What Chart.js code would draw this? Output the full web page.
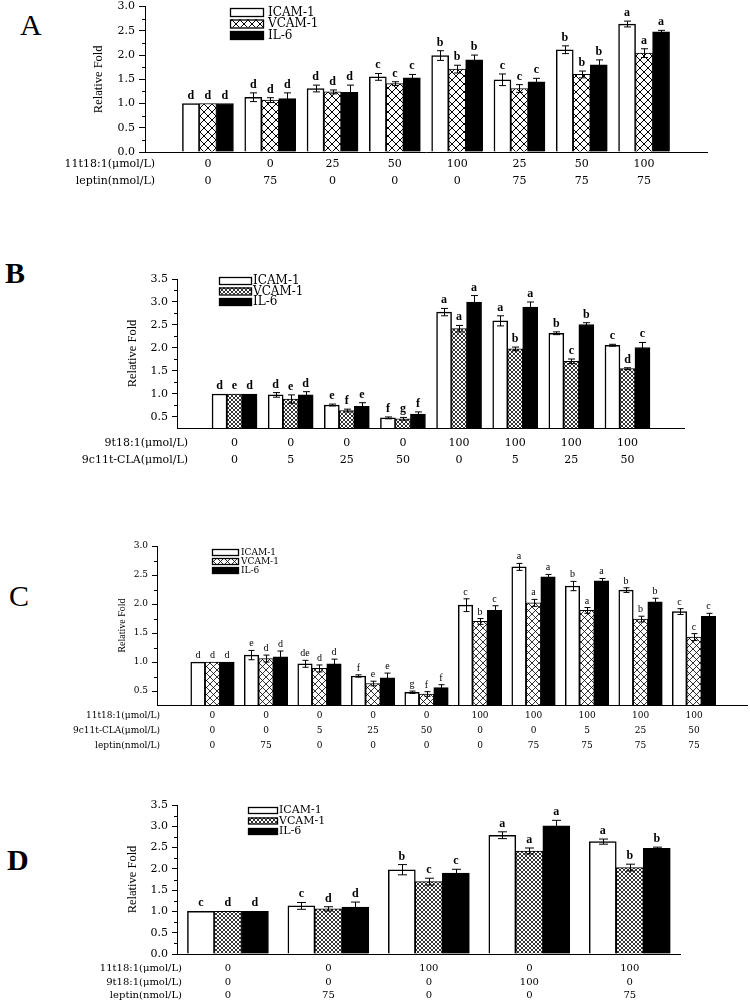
<!DOCTYPE html>
<html>
<head>
<meta charset="utf-8">
<script src="https://cdn.jsdelivr.net/npm/chart.js@4/dist/chart.umd.min.js"></script>
<style>
  body { margin:0; background:#fff; width:750px; height:1002px; position:relative; overflow:hidden; }
  canvas { position:absolute; left:0; }
  .tag { position:absolute; line-height:1; font-size:30px; color:#000; font-family:"Liberation Serif","DejaVu Serif",serif; }
</style>
</head>
<body>
<div class="tag" style="left:20px;top:10px">A</div>
<div class="tag" style="left:5px;top:258px;font-weight:bold">B</div>
<div class="tag" style="left:9px;top:581px">C</div>
<div class="tag" style="left:7px;top:845px;font-weight:bold">D</div>

<canvas id="cA" width="750" height="200" style="top:-4px"></canvas>
<canvas id="cB" width="750" height="215" style="top:260px"></canvas>
<canvas id="cC" width="750" height="225" style="top:530px"></canvas>
<canvas id="cD" width="750" height="212" style="top:790px"></canvas>

<script>
// === data ===
const series = ["ICAM-1", "VCAM-1", "IL-6"];

// panel A
const aRowNames = ["11t18:1(μmol/L)", "leptin(nmol/L)"];
const aVaccenic = ["0","0","25","50","100","25","50","100"];
const aLeptin   = ["0","75","0","0","0","75","75","75"];
const aYTicks   = [0, 0.5, 1, 1.5, 2, 2.5, 3];
const aICAM     = [1.00, 1.13, 1.31, 1.55, 1.99, 1.49, 2.11, 2.64];
const aICAMErr  = [0, 0.09, 0.07, 0.07, 0.10, 0.12, 0.08, 0.06];
const aVCAM     = [1.00, 1.07, 1.24, 1.41, 1.71, 1.31, 1.60, 2.04];
const aVCAMErr  = [0, 0.05, 0.04, 0.04, 0.08, 0.08, 0.07, 0.09];
const aIL6      = [1.00, 1.10, 1.23, 1.53, 1.90, 1.45, 1.80, 2.48];
const aIL6Err   = [0, 0.12, 0.15, 0.07, 0.10, 0.07, 0.10, 0.03];
const aSigICAM  = ["d","d","d","c","b","c","b","a"];
const aSigVCAM  = ["d","d","d","c","b","c","b","a"];
const aSigIL6   = ["d","d","d","c","b","c","b","a"];

// panel B
const bRowNames = ["9t18:1(μmol/L)", "9c11t-CLA(μmol/L)"];
const bElaidic  = ["0","0","0","0","100","100","100","100"];
const bCLA      = ["0","5","25","50","0","5","25","50"];
const bYTicks   = [0.5, 1, 1.5, 2, 2.5, 3, 3.5];
const bICAM     = [1.00, 0.98, 0.76, 0.48, 2.78, 2.59, 2.32, 2.06];
const bICAMErr  = [0, 0.05, 0.02, 0.02, 0.08, 0.11, 0.03, 0.02];
const bVCAM     = [1.00, 0.89, 0.64, 0.46, 2.42, 1.98, 1.71, 1.55];
const bVCAMErr  = [0, 0.09, 0.03, 0.03, 0.07, 0.04, 0.05, 0.02];
const bIL6      = [1.00, 0.98, 0.73, 0.56, 3.00, 2.89, 2.51, 2.01];
const bIL6Err   = [0, 0.07, 0.08, 0.05, 0.14, 0.11, 0.04, 0.11];
const bSigICAM  = ["d","d","e","f","a","a","b","c"];
const bSigVCAM  = ["e","e","f","g","a","b","c","d"];
const bSigIL6   = ["d","d","e","f","a","a","b","c"];

// panel C
const cRowNames = ["11t18:1(μmol/L)", "9c11t-CLA(μmol/L)", "leptin(nmol/L)"];
const cVaccenic = ["0","0","0","0","0","100","100","100","100","100"];
const cCLA      = ["0","0","5","25","50","0","0","5","25","50"];
const cLeptin   = ["0","75","0","0","0","0","75","75","75","75"];
const cYTicks   = [0.5, 1, 1.5, 2, 2.5, 3];
const cICAM     = [1.00, 1.12, 0.97, 0.76, 0.48, 1.98, 2.64, 2.31, 2.24, 1.87];
const cICAMErr  = [0, 0.08, 0.06, 0.02, 0.02, 0.11, 0.06, 0.08, 0.04, 0.05];
const cVCAM     = [1.00, 1.06, 0.89, 0.63, 0.45, 1.70, 2.02, 1.89, 1.74, 1.43];
const cVCAMErr  = [0, 0.06, 0.06, 0.04, 0.04, 0.05, 0.06, 0.05, 0.05, 0.06];
const cIL6      = [1.00, 1.09, 0.97, 0.73, 0.56, 1.89, 2.47, 2.40, 2.04, 1.79];
const cIL6Err   = [0, 0.10, 0.08, 0.08, 0.05, 0.08, 0.04, 0.04, 0.06, 0.05];
const cSigICAM  = ["d","e","de","f","g","c","a","b","b","c"];
const cSigVCAM  = ["d","d","d","e","f","b","a","a","b","c"];
const cSigIL6   = ["d","d","d","e","f","c","a","a","b","c"];

// panel D
const dRowNames = ["11t18:1(μmol/L)", "9t18:1(μmol/L)", "leptin(nmol/L)"];
const dVaccenic = ["0","0","100","0","100"];
const dElaidic  = ["0","0","0","100","0"];
const dLeptin   = ["0","75","0","0","75"];
const dYTicks   = [0, 0.5, 1, 1.5, 2, 2.5, 3, 3.5];
const dICAM     = [1.00, 1.13, 1.98, 2.79, 2.64];
const dICAMErr  = [0, 0.08, 0.12, 0.08, 0.06];
const dVCAM     = [1.00, 1.06, 1.70, 2.42, 2.03];
const dVCAMErr  = [0, 0.05, 0.08, 0.07, 0.08];
const dIL6      = [1.00, 1.10, 1.90, 3.01, 2.48];
const dIL6Err   = [0, 0.12, 0.09, 0.13, 0.03];
const dSigICAM  = ["c","c","b","a","a"];
const dSigVCAM  = ["d","d","c","a","b"];
const dSigIL6   = ["d","d","c","a","b"];

// === helpers ===
const SERIF = '"Liberation Serif", "DejaVu Serif", serif';
const WIDE  = '"DejaVu Serif", serif';

function hatch(size, lw){
  const c = document.createElement("canvas");
  c.width = c.height = size;
  const g = c.getContext("2d");
  g.fillStyle = "#fff"; g.fillRect(0, 0, size, size);
  g.strokeStyle = "#000"; g.lineWidth = lw;
  g.beginPath();
  g.moveTo(0, 0); g.lineTo(size, size);
  g.moveTo(size, 0); g.lineTo(0, size);
  g.stroke();
  return g.createPattern(c, "repeat");
}

function panel(id, p){
  const groups = p.rows[0].map((_, i) => p.rows.map(r => r[i]));
  const fills = ["#fff", hatch(p.hatch, p.hatchW), "#000"];

  // error bars + significance letters
  const errPlugin = { id:"err", afterDatasetsDraw(chart){
    const ctx = chart.ctx, y = chart.scales.y;
    chart.data.datasets.forEach((ds, k) => {
      chart.getDatasetMeta(k).data.forEach((bar, i) => {
        const v = p.values[k][i], e = p.errs[k][i];
        const top = y.getPixelForValue(v + e), bot = y.getPixelForValue(v - e);
        ctx.save();
        ctx.strokeStyle = "#000"; ctx.lineWidth = 1;
        if (e > 0){
          const x = Math.round(bar.x) + 0.5, c = p.cap;
          ctx.beginPath();
          ctx.moveTo(x, top); ctx.lineTo(x, bot);
          ctx.moveTo(x - c, top); ctx.lineTo(x + c, top);
          ctx.moveTo(x - c, bot); ctx.lineTo(x + c, bot);
          ctx.stroke();
        }
        ctx.fillStyle = "#000";
        ctx.font = p.sigFont;
        ctx.textAlign = "center"; ctx.textBaseline = "alphabetic";
        ctx.fillText(p.sig[k][i], bar.x, top - p.sigGap);
        ctx.restore();
      });
    });
  }};

  // minor y ticks, row headers, key
  const decor = { id:"decor", afterDraw(chart){
    const ctx = chart.ctx, y = chart.scales.y, x = chart.scales.x;
    ctx.save();
    ctx.strokeStyle = "#000"; ctx.lineWidth = 1;
    ctx.beginPath();
    p.yTicks.forEach(t => {
      const m = t + 0.25;
      if (m > p.yMax) return;
      const py = Math.round(y.getPixelForValue(m)) + 0.5;
      ctx.moveTo(x.left - 3, py); ctx.lineTo(x.left, py);
    });
    ctx.stroke();

    ctx.fillStyle = "#000";
    ctx.font = `${p.rowSize}px ${WIDE}`;
    ctx.textAlign = "right"; ctx.textBaseline = "middle";
    p.rowNames.forEach((name, k) => {
      ctx.fillText(name, p.headX, x.top + p.xPad + p.rowLH / 2 + k * p.rowLH);
    });

    const L = p.key;
    chart.data.datasets.forEach((ds, k) => {
      const ky = L.y + k * L.gap - p.top;
      ctx.fillStyle = ds.backgroundColor;
      ctx.fillRect(L.x, ky, L.w, L.h);
      ctx.lineWidth = 1.3;
      ctx.strokeRect(L.x + 0.5, ky + 0.5, L.w, L.h);
      ctx.fillStyle = "#000";
      ctx.font = `${L.size}px ${WIDE}`;
      ctx.textAlign = "left"; ctx.textBaseline = "middle";
      ctx.fillText(ds.label, L.tx, ky + L.h / 2 + 0.5);
    });
    ctx.restore();
  }};

  new Chart(document.getElementById(id), {
    type: "bar",
    data: {
      datasets: series.map((name, k) => ({
        label: name,
        data: p.values[k].map((v, i) => ({ x: i, y: v })),
        backgroundColor: fills[k],
        borderColor: "#000",
        borderWidth: k === 0 ? 1.5 : 1,
        barThickness: p.barW
      }))
    },
    options: {
      responsive: false,
      animation: false,
      layout: { padding: { top: p.padTop, right: p.padRight, left: 0, bottom: 0 } },
      plugins: { legend: { display: false }, tooltip: { enabled: false } },
      scales: {
        x: {
          type: "linear", min: p.xMin, max: p.xMax, offset: false,
          grid: { display: false, drawTicks: false },
          border: { color: "#000", width: 1 },
          afterBuildTicks: s => { s.ticks = groups.map((_, i) => ({ value: i })); },
          ticks: {
            autoSkip: false, maxRotation: 0, padding: p.xPad, color: "#000",
            font: { family: WIDE, size: p.rowSize, lineHeight: p.rowLH / p.rowSize },
            callback: v => groups[v] || ""
          },
          afterFit: s => { s.height = p.xH; }
        },
        y: {
          min: p.yMin, max: p.yMax,
          afterBuildTicks: s => { s.ticks = p.yTicks.map(v => ({ value: v })); },
          grid: { drawOnChartArea: false, drawTicks: true, tickLength: p.tickLen, color: "#000" },
          border: { color: "#000", width: 1 },
          ticks: { padding: 4, color: "#000", font: { family: WIDE, size: p.tickSize },
                   callback: v => Number(v).toFixed(1) },
          title: { display: true, text: "Relative Fold", color: "#000",
                   font: { family: SERIF, size: p.titleSize },
                   padding: { top: p.titleX - p.titleSize * 0.6, bottom: 0 } },
          afterFit: s => { s.width = p.axisX; }
        }
      }
    },
    plugins: [errPlugin, decor]
  });
}

// === panels ===
panel("cA", {
  top: -4, padTop: 10, padRight: 43, axisX: 145, xH: 44,
  xMin: -1.01, xMax: 8.01, yMin: 0, yMax: 3, yTicks: aYTicks,
  rows: [aVaccenic, aLeptin], rowNames: aRowNames, headX: 155, rowSize: 11, rowLH: 17, xPad: 3.5,
  values: [aICAM, aVCAM, aIL6], errs: [aICAMErr, aVCAMErr, aIL6Err], sig: [aSigICAM, aSigVCAM, aSigIL6],
  barW: 17, cap: 3.5, hatch: 8, hatchW: 1, tickLen: 6, tickSize: 11, titleSize: 12.5, titleX: 99,
  sigFont: `bold 12px ${SERIF}`, sigGap: 5,
  key: { x: 230, y: 8, w: 33, h: 8, gap: 11.5, tx: 268, size: 12 }
});

panel("cB", {
  top: 260, padTop: 19, padRight: 66, axisX: 177, xH: 47,
  xMin: -1.025, xMax: 8.007, yMin: 0.26, yMax: 3.5, yTicks: bYTicks,
  rows: [bElaidic, bCLA], rowNames: bRowNames, headX: 188, rowSize: 11, rowLH: 17, xPad: 6.5,
  values: [bICAM, bVCAM, bIL6], errs: [bICAMErr, bVCAMErr, bIL6Err], sig: [bSigICAM, bSigVCAM, bSigIL6],
  barW: 15, cap: 3.5, hatch: 4, hatchW: 0.8, tickLen: 5, tickSize: 11, titleSize: 12.5, titleX: 133,
  sigFont: `bold 12px ${SERIF}`, sigGap: 5,
  key: { x: 219, y: 277, w: 32, h: 7, gap: 10.5, tx: 253, size: 12 }
});

panel("cC", {
  top: 530, padTop: 16, padRight: 3, axisX: 157, xH: 50,
  xMin: -1.037, xMax: 9.99, yMin: 0.26, yMax: 3, yTicks: cYTicks,
  rows: [cVaccenic, cCLA, cLeptin], rowNames: cRowNames, headX: 160, rowSize: 9, rowLH: 15, xPad: 3.5,
  values: [cICAM, cVCAM, cIL6], errs: [cICAMErr, cVCAMErr, cIL6Err], sig: [cSigICAM, cSigVCAM, cSigIL6],
  barW: 14.5, cap: 3, hatch: 7, hatchW: 0.8, tickLen: 5, tickSize: 9, titleSize: 10, titleX: 122,
  sigFont: `10px ${SERIF}`, sigGap: 4,
  key: { x: 212, y: 549, w: 26, h: 6, gap: 9, tx: 241, size: 9 }
});

panel("cD", {
  top: 790, padTop: 15, padRight: 70, axisX: 177, xH: 48,
  xMin: -0.507, xMax: 4.5, yMin: 0, yMax: 3.5, yTicks: dYTicks,
  rows: [dVaccenic, dElaidic, dLeptin], rowNames: dRowNames, headX: 182, rowSize: 10, rowLH: 13.5, xPad: 8,
  values: [dICAM, dVCAM, dIL6], errs: [dICAMErr, dVCAMErr, dIL6Err], sig: [dSigICAM, dSigVCAM, dSigIL6],
  barW: 27, cap: 4.5, hatch: 4, hatchW: 0.8, tickLen: 5, tickSize: 11, titleSize: 12.5, titleX: 133,
  sigFont: `bold 12px ${SERIF}`, sigGap: 5,
  key: { x: 248, y: 807, w: 29, h: 6, gap: 10.5, tx: 279, size: 11 }
});
</script>
</body>
</html>
